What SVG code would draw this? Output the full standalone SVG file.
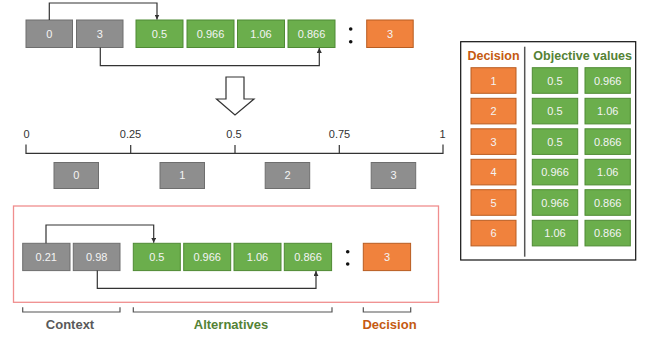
<svg xmlns="http://www.w3.org/2000/svg" width="649" height="337" viewBox="0 0 649 337">
  <style>
    .g { fill: #8e8e8e; stroke: #6e6e6e; stroke-width: 1; }
    .v { fill: #6bae4c; stroke: #4f8a34; stroke-width: 1; }
    .o { fill: #f0823d; stroke: #b85d22; stroke-width: 1; }
    .t { font-family: "Liberation Sans", Arial, sans-serif; font-size: 11px; fill: #f4f4f4; text-anchor: middle; }
    .ax { font-family: "Liberation Sans", Arial, sans-serif; font-size: 11px; fill: #333; text-anchor: middle; }
    .link { fill: none; stroke: #333; stroke-width: 1.2; }
    .br { fill: none; stroke: #555; stroke-width: 1.2; }
    .lbl { font-family: "Liberation Sans", Arial, sans-serif; font-size: 13px; font-weight: bold; text-anchor: middle; }
    .hdr { font-family: "Liberation Sans", Arial, sans-serif; font-size: 12.5px; font-weight: bold; text-anchor: middle; }
  </style>
  <defs>
    <marker id="tip" viewBox="0 0 6 6" refX="6" refY="3" markerWidth="5" markerHeight="5" orient="auto" markerUnits="userSpaceOnUse">
      <path d="M0,0 L6,3 L0,6 Z" fill="#333"/>
    </marker>
  </defs>

  <!-- top encoded vector -->
  <g id="top-ctx-0"><rect class="g" x="26" y="20" width="46.5" height="27.5"/><text class="t" x="49.3" y="37.8">0</text></g>
  <g id="top-ctx-1"><rect class="g" x="76.5" y="20" width="46.5" height="27.5"/><text class="t" x="99.8" y="37.8">3</text></g>
  <g id="top-alt-0"><rect class="v" x="136" y="20" width="47" height="27.5"/><text class="t" x="159.5" y="37.8">0.5</text></g>
  <g id="top-alt-1"><rect class="v" x="187" y="20" width="47" height="27.5"/><text class="t" x="210.5" y="37.8">0.966</text></g>
  <g id="top-alt-2"><rect class="v" x="237.5" y="20" width="47" height="27.5"/><text class="t" x="261" y="37.8">1.06</text></g>
  <g id="top-alt-3"><rect class="v" x="288" y="20" width="47" height="27.5"/><text class="t" x="311.5" y="37.8">0.866</text></g>
  <g id="top-colon"><circle cx="350.7" cy="29" r="1.8" fill="#111"/><circle cx="350.7" cy="41.7" r="1.8" fill="#111"/></g>
  <g id="top-dec"><rect class="o" x="366.7" y="20" width="46.5" height="27.5"/><text class="t" x="390" y="37.8">3</text></g>

  <!-- hollow down arrow -->
  <g id="down-arrow">
    <path d="M226,77 L244,77 L244,99 L254,99 L235,115 L216.5,99 L226,99 Z" fill="#fff" stroke="#333" stroke-width="1.2"/>
  </g>

  <!-- interval axis -->
  <g id="axis">
    <path d="M26,144.5 V153.3 H443 V144.5 M130.7,145 V153.3 M235,145 V153.3 M339.3,145 V153.3" fill="none" stroke="#333" stroke-width="1.2"/>
    <text class="ax" x="26.5" y="138">0</text>
    <text class="ax" x="130.5" y="138">0.25</text>
    <text class="ax" x="234" y="138">0.5</text>
    <text class="ax" x="339.5" y="138">0.75</text>
    <text class="ax" x="442.5" y="138">1</text>
  </g>
  <g id="bin-0"><rect class="g" x="54" y="162.5" width="44.5" height="26"/><text class="t" x="76.3" y="179.3">0</text></g>
  <g id="bin-1"><rect class="g" x="160" y="162.5" width="44.5" height="26"/><text class="t" x="182.3" y="179.3">1</text></g>
  <g id="bin-2"><rect class="g" x="265.2" y="162.5" width="44.5" height="26"/><text class="t" x="287.5" y="179.3">2</text></g>
  <g id="bin-3"><rect class="g" x="371.2" y="162.5" width="44.5" height="26"/><text class="t" x="393.5" y="179.3">3</text></g>

  <!-- scaled vector -->
  <g id="frame"><rect x="13.5" y="206" width="425" height="96.3" fill="none" stroke="#f08e8e" stroke-width="1.3"/></g>
  <g id="ctx-0"><rect class="g" x="22.7" y="243.3" width="47.3" height="27.3"/><text class="t" x="46.3" y="261">0.21</text></g>
  <g id="ctx-1"><rect class="g" x="73.3" y="243.3" width="46.7" height="27.3"/><text class="t" x="96.7" y="261">0.98</text></g>
  <g id="alt-0"><rect class="v" x="133.3" y="243.3" width="47" height="27.3"/><text class="t" x="156.8" y="261">0.5</text></g>
  <g id="alt-1"><rect class="v" x="183.7" y="243.3" width="47" height="27.3"/><text class="t" x="207.2" y="261">0.966</text></g>
  <g id="alt-2"><rect class="v" x="234" y="243.3" width="47" height="27.3"/><text class="t" x="257.5" y="261">1.06</text></g>
  <g id="alt-3"><rect class="v" x="284.3" y="243.3" width="47.3" height="27.3"/><text class="t" x="308" y="261">0.866</text></g>
  <g id="colon"><circle cx="347.7" cy="251.7" r="1.8" fill="#111"/><circle cx="347.7" cy="264" r="1.8" fill="#111"/></g>
  <g id="dec"><rect class="o" x="363.3" y="243.3" width="47.3" height="27.3"/><text class="t" x="387" y="261">3</text></g>

  <!-- connectors -->
  <g id="connectors">
    <path class="link" d="M49.3,20 V3 H157 V19.5" marker-end="url(#tip)"/>
    <path class="link" d="M100.3,47.5 V65.7 H319.3 V48" marker-end="url(#tip)"/>
    <path class="link" d="M46,243.3 V225 H153.7 V242.8" marker-end="url(#tip)"/>
    <path class="link" d="M97.3,270.6 V288.3 H316 V271.1" marker-end="url(#tip)"/>
  </g>

  <!-- group brackets -->
  <g id="brackets">
    <path class="br" d="M22.7,307.3 V312 H120 V307.3"/>
    <path class="br" d="M133.3,307.3 V312 H332 V307.3"/>
    <path class="br" d="M363.3,307.3 V312 H410.7 V307.3"/>
    <text class="lbl" x="70" y="329" fill="#595959">Context</text>
    <text class="lbl" x="231" y="329" fill="#548235">Alternatives</text>
    <text class="lbl" x="389.5" y="329" fill="#c55a11">Decision</text>
  </g>

  <!-- decision table -->
  <g id="table">
    <rect x="460.7" y="41.7" width="175" height="218.3" fill="#fff" stroke="#111" stroke-width="1.2"/>
    <line x1="524.7" y1="46.7" x2="524.7" y2="256.7" stroke="#555" stroke-width="1.5"/>
    <text class="hdr" x="493.5" y="60" fill="#c55a11">Decision</text>
    <text class="hdr" x="582.7" y="60" fill="#548235">Objective values</text>
  </g>
  <g id="row-1">
    <rect class="o" x="471" y="67.7" width="45" height="25.6"/><text class="t" x="493.5" y="84.5">1</text>
    <rect class="v" x="532.3" y="67.7" width="45.4" height="25.6"/><text class="t" x="555" y="84.5">0.5</text>
    <rect class="v" x="585" y="67.7" width="45.3" height="25.6"/><text class="t" x="607.7" y="84.5">0.966</text>
  </g>
  <g id="row-2">
    <rect class="o" x="471" y="98.3" width="45" height="25.6"/><text class="t" x="493.5" y="115.1">2</text>
    <rect class="v" x="532.3" y="98.3" width="45.4" height="25.6"/><text class="t" x="555" y="115.1">0.5</text>
    <rect class="v" x="585" y="98.3" width="45.3" height="25.6"/><text class="t" x="607.7" y="115.1">1.06</text>
  </g>
  <g id="row-3">
    <rect class="o" x="471" y="128.8" width="45" height="25.6"/><text class="t" x="493.5" y="145.6">3</text>
    <rect class="v" x="532.3" y="128.8" width="45.4" height="25.6"/><text class="t" x="555" y="145.6">0.5</text>
    <rect class="v" x="585" y="128.8" width="45.3" height="25.6"/><text class="t" x="607.7" y="145.6">0.866</text>
  </g>
  <g id="row-4">
    <rect class="o" x="471" y="159.3" width="45" height="25.6"/><text class="t" x="493.5" y="176.1">4</text>
    <rect class="v" x="532.3" y="159.3" width="45.4" height="25.6"/><text class="t" x="555" y="176.1">0.966</text>
    <rect class="v" x="585" y="159.3" width="45.3" height="25.6"/><text class="t" x="607.7" y="176.1">1.06</text>
  </g>
  <g id="row-5">
    <rect class="o" x="471" y="189.7" width="45" height="25.6"/><text class="t" x="493.5" y="206.5">5</text>
    <rect class="v" x="532.3" y="189.7" width="45.4" height="25.6"/><text class="t" x="555" y="206.5">0.966</text>
    <rect class="v" x="585" y="189.7" width="45.3" height="25.6"/><text class="t" x="607.7" y="206.5">0.866</text>
  </g>
  <g id="row-6">
    <rect class="o" x="471" y="220.3" width="45" height="25.6"/><text class="t" x="493.5" y="237.1">6</text>
    <rect class="v" x="532.3" y="220.3" width="45.4" height="25.6"/><text class="t" x="555" y="237.1">1.06</text>
    <rect class="v" x="585" y="220.3" width="45.3" height="25.6"/><text class="t" x="607.7" y="237.1">0.866</text>
  </g>
</svg>
